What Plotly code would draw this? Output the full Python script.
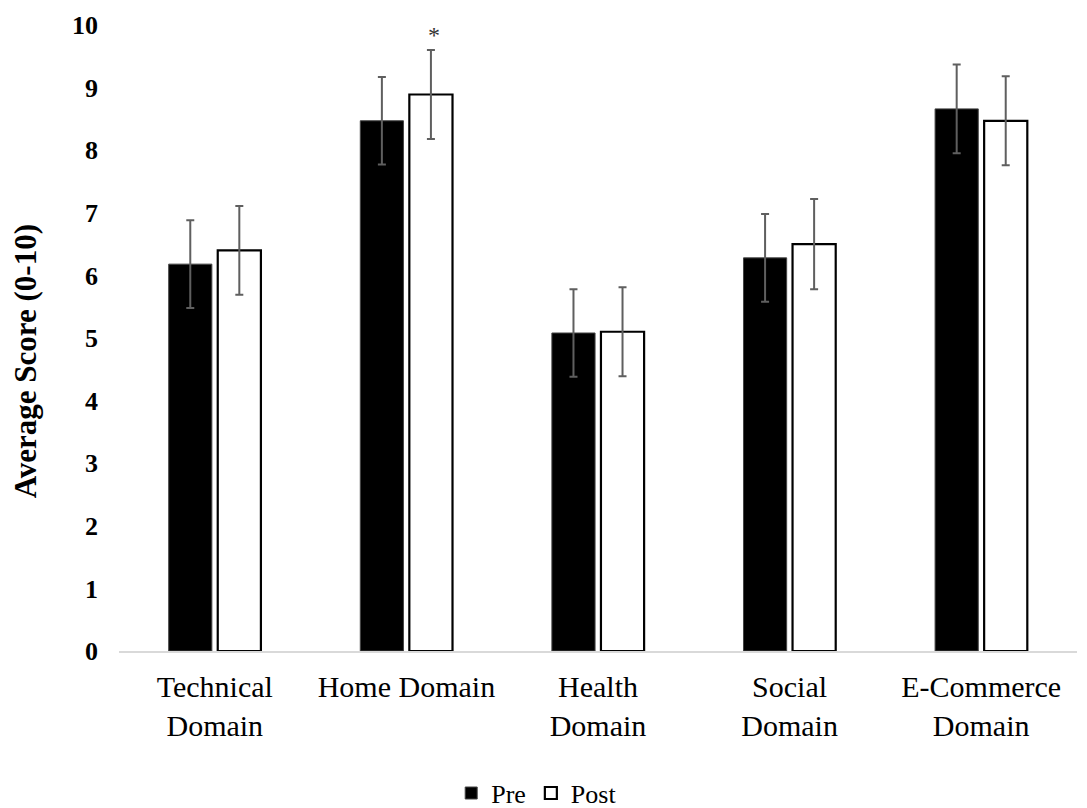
import plotly.graph_objects as go

categories = ["Technical<br>Domain", "Home Domain", "Health<br>Domain", "Social<br>Domain", "E-Commerce<br>Domain"]
pre_values = [6.18, 8.47, 5.08, 6.28, 8.66]
post_values = [6.40, 8.89, 5.10, 6.50, 8.47]
pre_errors = [0.70, 0.70, 0.70, 0.70, 0.71]
post_errors = [0.71, 0.71, 0.71, 0.72, 0.71]
significant = ["Home Domain"]
y_ticks = list(range(0, 11))

SERIF = "Liberation Serif, Times New Roman, serif"
ERR_COLOR = "#5f5f5f"

fig = go.Figure()
fig.add_trace(go.Bar(
    name="Pre", x=categories, y=pre_values,
    marker=dict(color="black", line=dict(color="#444444", width=1)),
    error_y=dict(type="data", array=pre_errors, color=ERR_COLOR, thickness=2, width=4),
))
fig.add_trace(go.Bar(
    name="Post", x=categories, y=post_values,
    marker=dict(color="white", line=dict(color="black", width=2.2)),
    error_y=dict(type="data", array=post_errors, color=ERR_COLOR, thickness=2, width=4),
))

for cat in significant:
    i = categories.index(cat)
    fig.add_annotation(
        x=cat, y=post_values[i] + post_errors[i], xref="x", yref="y",
        text="*", showarrow=False, xshift=28, yanchor="bottom", yshift=0,
        font=dict(family=SERIF, size=24, color="#333333"),
    )

# y-axis title placed as rotated text
fig.add_annotation(
    x=-0.098, y=0.463, xref="paper", yref="paper",
    text="<b>Average Score (0-10)</b>", textangle=-90, showarrow=False,
    xanchor="center", yanchor="middle",
    font=dict(family=SERIF, size=31, color="black"),
)

fig.update_layout(
    width=1079, height=800,
    margin=dict(l=111, r=10, t=17, b=157, autoexpand=False),
    paper_bgcolor="white", plot_bgcolor="white",
    barmode="group", bargap=0.488, bargroupgap=0.12,
    font=dict(family=SERIF, color="black"),
    showlegend=True,
    legend=dict(
        orientation="h", x=0.436, xanchor="center",
        yref="paper", y=-0.227, yanchor="middle",
        font=dict(family=SERIF, size=26, color="black"),
        itemwidth=30, traceorder="normal",
    ),
    xaxis=dict(
        showgrid=False, showline=True, linecolor="#d9d9d9", linewidth=2,
        ticks="", tickfont=dict(family=SERIF, size=30, color="black"),
        ticklabelstandoff=8,
    ),
    yaxis=dict(
        range=[0, 10], tickvals=y_ticks, showgrid=False, showline=False, zeroline=False,
        ticks="", tickfont=dict(family=SERIF, size=26, color="black", weight="bold"),
        ticklabelstandoff=20,
    ),
)

fig.write_html("out.html")
